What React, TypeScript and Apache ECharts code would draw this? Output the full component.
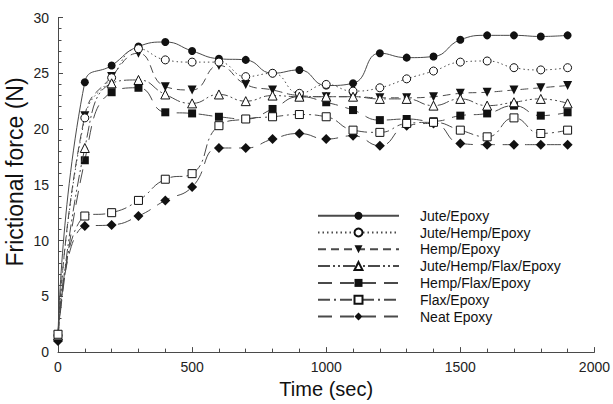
import React, { useEffect, useRef } from "react";
import * as echarts from "echarts";

const times = [0, 100, 200, 300, 400, 500, 600, 700, 800, 900, 1000, 1100, 1200, 1300, 1400, 1500, 1600, 1700, 1800, 1900];

const juteEpoxy = [1.5, 24.2, 25.7, 27.4, 27.8, 27.0, 26.3, 26.2, 25.0, 25.3, 23.9, 24.1, 26.8, 26.4, 26.5, 28.0, 28.4, 28.4, 28.3, 28.4];
const juteHempEpoxy = [1.5, 21.0, 24.6, 27.2, 26.2, 26.0, 26.0, 24.7, 25.0, 23.2, 24.0, 23.4, 23.7, 24.5, 25.2, 26.0, 26.1, 25.5, 25.3, 25.5];
const hempEpoxy = [1.5, 21.2, 24.7, 26.8, 23.8, 23.5, 25.7, 24.0, 23.5, 23.0, 22.9, 22.9, 22.8, 22.8, 22.9, 23.2, 23.3, 23.5, 23.7, 23.9];
const juteHempFlaxEpoxy = [1.5, 18.3, 24.1, 24.4, 23.1, 22.3, 23.1, 22.5, 23.0, 22.9, 22.9, 22.9, 22.7, 22.7, 22.1, 22.7, 22.1, 22.4, 22.7, 22.3];
const hempFlaxEpoxy = [1.5, 17.2, 23.3, 23.7, 21.5, 21.4, 21.1, 20.9, 21.8, 22.9, 22.4, 21.7, 20.8, 20.9, 20.7, 21.2, 21.4, 22.1, 21.2, 21.5];
const flaxEpoxy = [1.6, 12.2, 12.5, 13.6, 15.5, 16.0, 20.3, 20.9, 21.1, 21.3, 21.1, 19.9, 19.7, 20.5, 20.6, 19.9, 19.3, 21.0, 19.6, 19.9];
const neatEpoxy = [1.0, 11.3, 11.4, 12.2, 13.6, 14.8, 18.3, 18.3, 19.1, 19.6, 19.1, 19.4, 18.5, 20.3, 20.5, 18.7, 18.6, 18.6, 18.6, 18.6];

const seriesNames = [
  "Jute/Epoxy",
  "Jute/Hemp/Epoxy",
  "Hemp/Epoxy",
  "Jute/Hemp/Flax/Epoxy",
  "Hemp/Flax/Epoxy",
  "Flax/Epoxy",
  "Neat Epoxy",
];

const xTicks = { min: 0, max: 2000, interval: 500 };
const yTicks = { min: 0, max: 30, interval: 5 };

const FONT = "'Liberation Sans', Arial, Helvetica, sans-serif";
const LINE = "#4a4a4a";
const INK = "#111";

export default function App() {
  const ref = useRef<HTMLDivElement>(null);

  useEffect(() => {
    if (!ref.current) return;
    const chart = echarts.init(ref.current, null, { renderer: "svg" });

    const values = [juteEpoxy, juteHempEpoxy, hempEpoxy, juteHempFlaxEpoxy, hempFlaxEpoxy, flaxEpoxy, neatEpoxy];
    const styles: any[] = [
      { symbol: "circle", size: 8, open: false, dash: "solid", rotate: 0 },
      { symbol: "circle", size: 8, open: true, dash: [1.5, 3], rotate: 0 },
      { symbol: "triangle", size: 9, open: false, dash: [8, 5], rotate: 180 },
      { symbol: "triangle", size: 9, open: true, dash: [12, 3, 2, 3, 2, 3], rotate: 0 },
      { symbol: "rect", size: 8, open: false, dash: [14, 8], rotate: 0 },
      { symbol: "rect", size: 8, open: true, dash: [12, 4, 2, 4], rotate: 0 },
      { symbol: "diamond", size: 10, open: false, dash: [14, 8], rotate: 0 },
    ];

    const series = seriesNames.map((name, i) => {
      const s = styles[i];
      return {
        name,
        type: "line",
        smooth: 0.5,
        data: times.map((t, j) => [t, values[i][j]]),
        symbol: s.symbol,
        symbolSize: s.size,
        symbolRotate: s.rotate,
        showAllSymbol: true,
        lineStyle: { color: LINE, width: 1, type: s.dash },
        itemStyle: s.open
          ? { color: "#fff", borderColor: INK, borderWidth: 1 }
          : { color: INK, borderColor: INK, borderWidth: 0 },
        z: s.open ? 3 : 2,
      };
    });

    chart.setOption({
      animation: false,
      backgroundColor: "#fff",
      grid: { left: 58, right: 15.5, top: 17.5, bottom: 50, containLabel: false },
      legend: {
        data: seriesNames,
        orient: "vertical",
        left: 312,
        top: 203.7,
        itemWidth: 81,
        itemHeight: 10,
        itemGap: 2.8,
        textStyle: {
          fontFamily: FONT,
          fontSize: 14,
          color: INK,
          lineHeight: 14,
          padding: [0, 0, 0, 16],
        },
        selectedMode: false,
      },
      xAxis: {
        type: "value",
        min: xTicks.min,
        max: xTicks.max,
        interval: xTicks.interval,
        name: "Time (sec)",
        nameLocation: "middle",
        nameGap: 26,
        nameTextStyle: { fontFamily: FONT, fontSize: 20, color: INK },
        axisLine: { show: true, lineStyle: { color: LINE, width: 1 } },
        axisTick: { show: true, inside: true, length: 5, lineStyle: { color: LINE } },
        minorTick: { show: true, splitNumber: 5, length: 3.5, lineStyle: { color: LINE } },
        splitLine: { show: false },
        axisLabel: {
          fontFamily: FONT,
          fontSize: 14,
          color: "#222",
          margin: 8,
          formatter: (v: number) => String(v),
        },
      },
      yAxis: {
        type: "value",
        min: yTicks.min,
        max: yTicks.max,
        interval: yTicks.interval,
        axisLine: { show: true, lineStyle: { color: LINE, width: 1 } },
        axisTick: { show: true, inside: true, length: 5, lineStyle: { color: LINE } },
        minorTick: { show: true, splitNumber: 5, length: 3.5, lineStyle: { color: LINE } },
        splitLine: { show: false },
        axisLabel: { fontFamily: FONT, fontSize: 14, color: "#222", margin: 9 },
      },
      graphic: [
        {
          type: "text",
          x: 15,
          y: 172,
          rotation: Math.PI / 2,
          style: {
            text: "Frictional force (N)",
            font: `23px ${FONT}`,
            fill: INK,
            textAlign: "center",
            textVerticalAlign: "middle",
          },
        },
      ],
      series,
    });

    return () => chart.dispose();
  }, []);

  return (
    <div
      ref={ref}
      style={{ position: "fixed", left: 0, top: 0, width: 613, height: 404, background: "#fff" }}
    />
  );
}
